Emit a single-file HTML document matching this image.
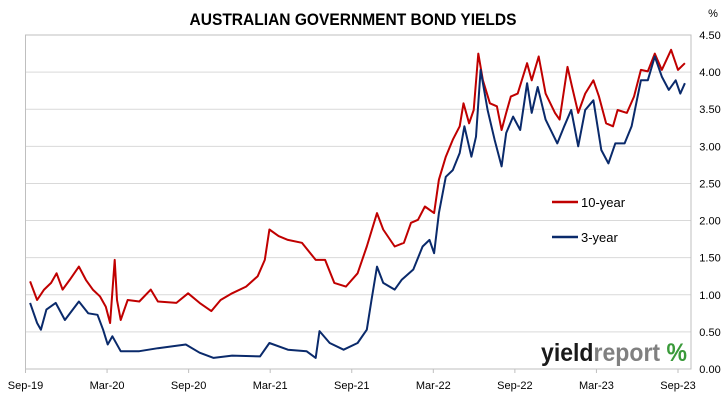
<!DOCTYPE html>
<html><head><meta charset="utf-8"><style>
html,body{margin:0;padding:0;background:#fff;}
svg{display:block;font-family:"Liberation Sans",sans-serif;}
</style></head><body>
<svg id="chart" width="728" height="400" viewBox="0 0 728 400" xmlns="http://www.w3.org/2000/svg">
<rect x="0" y="0" width="728" height="400" fill="#fff"/>
<text x="353" y="25" text-anchor="middle" font-size="17" font-weight="bold" textLength="327" lengthAdjust="spacingAndGlyphs" fill="#000">AUSTRALIAN GOVERNMENT BOND YIELDS</text>
<text x="713" y="17" text-anchor="middle" font-size="11" fill="#000">%</text>
<g id="grid"></g>
<rect x="25.5" y="35" width="665.5" height="334" fill="none" stroke="#bfbfbf" stroke-width="1"/>
<g id="axes"></g>
<g id="series"></g>
<g>
<line x1="552" y1="202" x2="578" y2="202" stroke="#c00000" stroke-width="2.5"/>
<text x="581" y="207" font-size="13" fill="#000">10-year</text>
<line x1="552" y1="237" x2="578" y2="237" stroke="#0a2a6b" stroke-width="2.5"/>
<text x="581" y="242" font-size="13" fill="#000">3-year</text>
</g>
<g>
<text x="541" y="361" font-size="25" font-weight="bold" textLength="146" lengthAdjust="spacingAndGlyphs"><tspan fill="#1a1a1a">yield</tspan><tspan fill="#808080">report</tspan><tspan fill="#3a9a3a"> %</tspan></text>
</g>
</svg>
<script>
var yTicks=[0,0.5,1,1.5,2,2.5,3,3.5,4,4.5];
var xTickLabels=["Sep-19","Mar-20","Sep-20","Mar-21","Sep-21","Mar-22","Sep-22","Mar-23","Sep-23"];
var xTickMonths=[0,6,12,18,24,30,36,42,48];
var months10=[0.34,0.85,1.37,1.88,2.29,2.73,3.25,3.93,4.44,4.95,5.47,5.91,6.22,6.56,6.73,7.0,7.52,8.37,9.22,9.74,11.1,11.96,12.81,13.67,14.35,15.2,16.23,17.08,17.6,17.94,18.62,19.3,20.33,21.35,22.04,22.72,23.57,24.43,25.11,25.86,26.31,27.16,27.84,28.36,28.87,29.38,30.06,30.41,30.92,31.43,31.94,32.22,32.63,32.97,33.31,33.65,34.16,34.68,35.02,35.36,35.7,36.21,36.9,37.24,37.75,38.26,38.95,39.29,39.87,40.21,40.66,41.17,41.78,42.19,42.71,43.22,43.56,44.24,44.76,45.27,45.78,46.29,46.81,47.49,48.0,48.51];
var yield10=[1.18,0.93,1.07,1.16,1.29,1.07,1.2,1.38,1.2,1.07,0.98,0.84,0.62,1.47,0.93,0.66,0.93,0.91,1.07,0.91,0.89,1.02,0.89,0.78,0.93,1.02,1.11,1.25,1.47,1.88,1.79,1.74,1.70,1.47,1.47,1.16,1.11,1.29,1.65,2.10,1.88,1.65,1.70,1.97,2.01,2.19,2.10,2.55,2.86,3.09,3.27,3.58,3.31,3.49,4.25,3.89,3.58,3.54,3.22,3.45,3.67,3.71,4.12,3.89,4.21,3.71,3.45,3.36,4.07,3.80,3.45,3.71,3.89,3.67,3.31,3.27,3.49,3.45,3.67,4.03,4.01,4.25,4.03,4.30,4.03,4.12];
var months3=[0.34,0.85,1.13,1.54,2.22,2.9,3.93,4.61,5.3,5.71,6.05,6.39,7.0,8.37,9.74,11.79,12.81,13.84,15.2,17.25,17.94,19.3,20.67,21.35,21.63,22.38,23.4,24.43,25.11,25.45,25.86,26.31,27.16,27.67,28.53,29.21,29.72,30.06,30.41,30.92,31.43,31.94,32.29,32.8,33.14,33.48,33.99,34.51,35.02,35.36,35.87,36.39,36.9,37.24,37.68,38.26,39.12,39.63,40.14,40.66,41.17,41.78,42.36,42.88,43.39,44.07,44.59,45.27,45.78,46.29,46.81,47.32,47.83,48.17,48.51];
var yield3=[0.89,0.62,0.53,0.8,0.89,0.66,0.91,0.75,0.73,0.53,0.33,0.44,0.24,0.24,0.28,0.33,0.22,0.15,0.18,0.17,0.35,0.26,0.24,0.15,0.51,0.35,0.26,0.35,0.53,0.93,1.38,1.16,1.07,1.2,1.34,1.65,1.74,1.56,2.1,2.59,2.68,2.91,3.27,2.86,3.13,4.03,3.49,3.09,2.73,3.18,3.40,3.22,3.85,3.45,3.80,3.36,3.04,3.27,3.49,3.0,3.49,3.62,2.95,2.77,3.04,3.04,3.27,3.89,3.89,4.21,3.94,3.76,3.89,3.71,3.85];
var NS="http://www.w3.org/2000/svg";
function xScale(m){return 25.5+m*(678-25.5)/48;}
function yScale(v){return 369-v*(334/4.5);}
var grid=document.getElementById('grid'),axes=document.getElementById('axes'),series=document.getElementById('series');
yTicks.forEach(function(v){
  var y=yScale(v);
  if(v>0&&v<4.5){var l=document.createElementNS(NS,'line');
  
  
  l.setAttribute('x1',25.5);l.setAttribute('x2',691);l.setAttribute('y1',y);l.setAttribute('y2',y);
  l.setAttribute('stroke','#d9d9d9');l.setAttribute('stroke-width','1');grid.appendChild(l);}
  var t=document.createElementNS(NS,'text');
  
  
  t.setAttribute('x',710);t.setAttribute('y',y+4);t.setAttribute('text-anchor','middle');t.setAttribute('font-size','11');
  t.textContent=v.toFixed(2);axes.appendChild(t);
});
xTickMonths.forEach(function(m,i){
  var x=xScale(m);
  var k=document.createElementNS(NS,'line');
  
  
  k.setAttribute('x1',x);k.setAttribute('x2',x);k.setAttribute('y1',369);k.setAttribute('y2',373);
  k.setAttribute('stroke','#bfbfbf');axes.appendChild(k);
  var t=document.createElementNS(NS,'text');
  
  
  t.setAttribute('x',x);t.setAttribute('y',389);t.setAttribute('text-anchor','middle');t.setAttribute('font-size','11');
  t.textContent=xTickLabels[i];axes.appendChild(t);
});
function drawLine(ms,vs,color,name){
  var d='';for(var i=0;i<ms.length;i++){d+=(i?'L':'M')+xScale(ms[i]).toFixed(1)+','+yScale(vs[i]).toFixed(1);}
  var p=document.createElementNS(NS,'path');
  
  
  p.setAttribute('d',d);p.setAttribute('fill','none');p.setAttribute('stroke',color);
  p.setAttribute('stroke-width','2');p.setAttribute('stroke-linejoin','round');series.appendChild(p);
}
drawLine(months10,yield10,'#c00000','line-10-year');
drawLine(months3,yield3,'#0a2a6b','line-3-year');
</script>
</body></html>
